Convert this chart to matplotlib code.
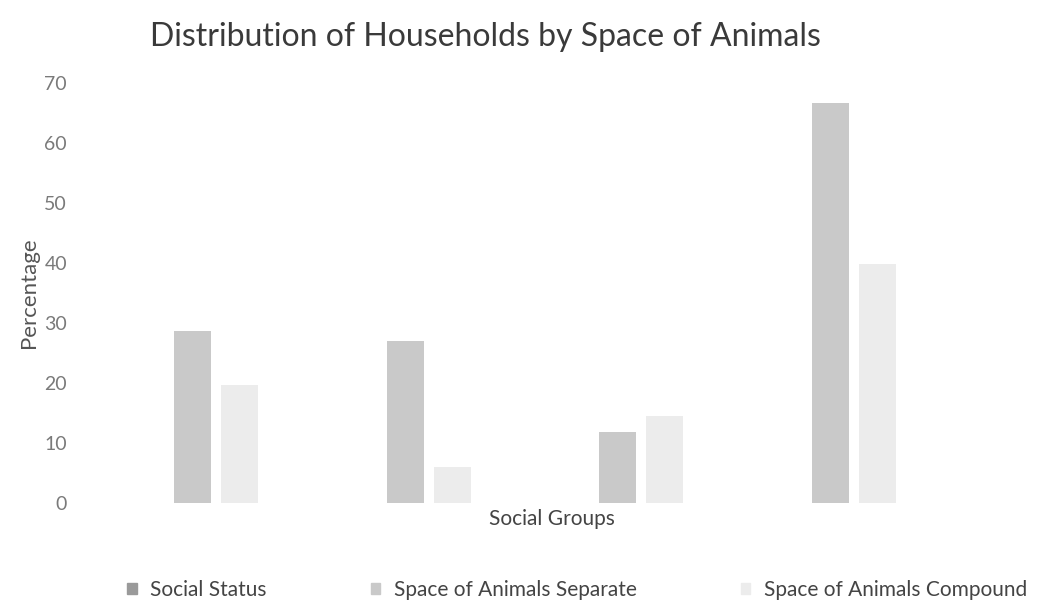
import numpy as np
import matplotlib.pyplot as plt
from matplotlib.patches import Patch

plt.rcParams['font.family'] = ['Lato', 'DejaVu Sans']

groups = ["Group 1", "Group 2", "Group 3", "Group 4"]
series_names = ["Social Status", "Space of Animals Separate", "Space of Animals Compound"]
separate = [28.7, 26.9, 11.8, 66.7]
compound = [19.6, 6.0, 14.4, 39.8]

col_status = "#9a9a9a"
col_sep = "#c9c9c9"
col_comp = "#ececec"

fig = plt.figure(figsize=(10.38, 6.0), dpi=100)
ax = fig.add_axes([0.106, 0.162, 0.819, 0.70])

x = np.arange(len(groups))
w = 0.174
ax.bar(x - 0.11, separate, width=w, color=col_sep)
ax.bar(x + 0.11, compound, width=w, color=col_comp)

ax.set_xlim(-0.5, 3.5)
ax.set_ylim(0, 70)
ax.set_yticks(range(0, 71, 10))
ax.set_xticks([])
for s in ax.spines.values():
    s.set_visible(False)
ax.tick_params(axis='y', length=0, pad=31, labelsize=14, labelcolor="#7a7a7a")

ax.set_ylabel("Percentage", fontsize=16, color="#555555")
ax.yaxis.set_label_coords(-0.083, 0.5)
ax.set_xlabel("Social Groups", fontsize=15, color="#444444")
ax.xaxis.set_label_coords(0.52, -0.015)

fig.text(0.468, 0.938, "Distribution of Households by Space of Animals",
         ha='center', va='center', fontsize=23, color="#3a3a3a")

handles = [Patch(color=col_status), Patch(color=col_sep), Patch(color=col_comp)]
fig.legend(handles, series_names, loc='center', bbox_to_anchor=(0.556, 0.017),
           ncol=3, frameon=False, fontsize=15, labelcolor="#444444",
           handlelength=0.45, handleheight=0.45, handletextpad=0.65, columnspacing=5.0)

fig.savefig("out.png", dpi=100)
